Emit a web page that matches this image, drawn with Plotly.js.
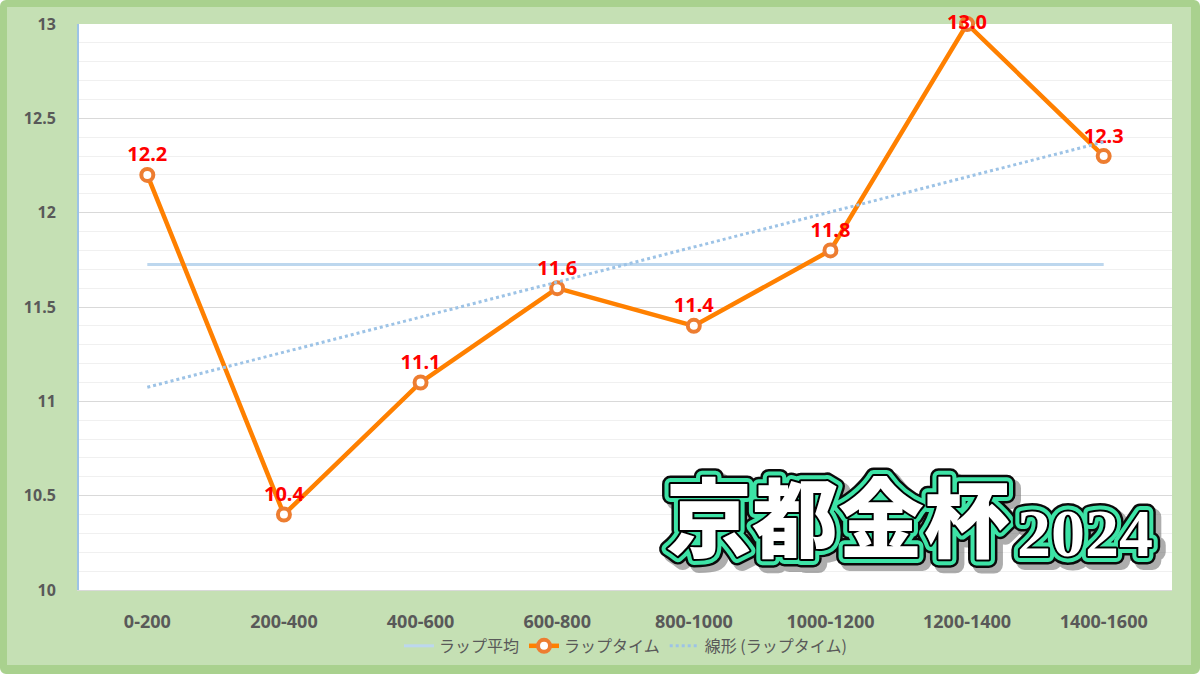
<!DOCTYPE html>
<html>
<head>
<meta charset="utf-8">
<script src="https://cdn.plot.ly/plotly-3.0.1.min.js"></script>
<style>
  html, body { margin: 0; padding: 0; background: #ffffff; }
  #frame {
    width: 1184px; height: 658px;
    border-style: solid; border-color: #a9d18e;
    border-width: 7px 9px 9px 7px;
    border-radius: 6px;
    background: #c5e0b4;
  }
  #chart { width: 1184px; height: 658px; }
  .annotation text { stroke-linejoin: round; paint-order: stroke fill; }
  .annotation[data-index="0"] text, .annotation[data-index="4"] text { stroke: #6b6b6b; stroke-width: 18px; opacity: 0.55; }
  .annotation[data-index="1"] text, .annotation[data-index="5"] text { stroke: #0a0a0a; stroke-width: 17px; }
  .annotation[data-index="2"] text, .annotation[data-index="6"] text { stroke: #3de3a6; stroke-width: 12px; }
  .annotation[data-index="3"] text, .annotation[data-index="7"] text { stroke: #000000; stroke-width: 4px; }
</style>
</head>
<body>
<div id="frame"><div id="chart"></div></div>
<script>
const categories = ["0-200", "200-400", "400-600", "600-800", "800-1000", "1000-1200", "1200-1400", "1400-1600"];
const lapTimes = [12.2, 10.4, 11.1, 11.6, 11.4, 11.8, 13.0, 12.3];
const lapAverage = [11.725, 11.725, 11.725, 11.725, 11.725, 11.725, 11.725, 11.725];
const trendCategories = ["0-200", "1400-1600"];
const trendValues = [11.075, 12.375];
const yTickVals = [10, 10.5, 11, 11.5, 12, 12.5, 13];
const yTickText = ["10", "10.5", "11", "11.5", "12", "12.5", "13"];
const titleMain = "京都金杯";
const titleYear = "2024";

const labelPositions = lapTimes.map((v, i) => i === 6 ? "middle center" : "top center");

const traces = [
  {
    x: categories, y: lapAverage, type: "scatter", mode: "lines",
    name: "ラップ平均",
    line: { color: "#bdd7ee", width: 3 },
    hoverinfo: "skip"
  },
  {
    x: categories, y: lapTimes, type: "scatter", mode: "lines+markers+text",
    name: "ラップタイム",
    line: { color: "#ff8000", width: 4.5 },
    marker: { symbol: "circle", size: 12, color: "#ffffff", line: { color: "#ed7d31", width: 4 } },
    text: lapTimes.map(v => v.toFixed(1)),
    textposition: labelPositions,
    textfont: { family: "Noto Sans, Liberation Sans, sans-serif", size: 20, color: "#ff0000", weight: "bold" },
    cliponaxis: false
  },
  {
    x: trendCategories, y: trendValues, type: "scatter", mode: "lines",
    name: "線形 (ラップタイム)",
    line: { color: "#9dc3e6", width: 3, dash: "dot" },
    hoverinfo: "skip"
  }
];

function titleLayer(text, x, y, size, family, color, xshift, yshift) {
  return {
    text: text, x: x, y: y, xref: "paper", yref: "paper",
    xanchor: "left", yanchor: "bottom", showarrow: false,
    xshift: xshift, yshift: yshift,
    font: { family: family, size: size, color: color, weight: 900 }
  };
}

const cjkFamily = "Noto Sans CJK JP, sans-serif";
const serifFamily = "Liberation Serif, DejaVu Serif, serif";
const mainX = 0.535, mainY = 0.022;
const yearX = 0.856, yearY = 0.03;

const annotations = [
  titleLayer(titleMain, mainX, mainY, 86, cjkFamily, "#6b6b6b", 5, -5),
  titleLayer(titleMain, mainX, mainY, 86, cjkFamily, "#0a0a0a", 0, 0),
  titleLayer(titleMain, mainX, mainY, 86, cjkFamily, "#3de3a6", 0, 0),
  titleLayer(titleMain, mainX, mainY, 86, cjkFamily, "#ffffff", 0, 0),
  titleLayer(titleYear, yearX, yearY, 68, serifFamily, "#6b6b6b", 5, -5),
  titleLayer(titleYear, yearX, yearY, 68, serifFamily, "#0a0a0a", 0, 0),
  titleLayer(titleYear, yearX, yearY, 68, serifFamily, "#3de3a6", 0, 0),
  titleLayer(titleYear, yearX, yearY, 68, serifFamily, "#ffffff", 0, 0)
];

const layout = {
  width: 1184, height: 658,
  margin: { l: 72, r: 19, t: 17, b: 75, autoexpand: false },
  paper_bgcolor: "#c5e0b4",
  plot_bgcolor: "#ffffff",
  showlegend: true,
  legend: {
    orientation: "h", x: 0.5, xanchor: "center",
    yref: "container", y: 0.029, yanchor: "middle",
    font: { family: "Noto Sans CJK JP, sans-serif", size: 16, color: "#595959" },
    bgcolor: "rgba(0,0,0,0)"
  },
  xaxis: {
    type: "category", range: [-0.5, 7.5],
    showgrid: false, zeroline: false,
    showline: true, linecolor: "#d9d9d9", linewidth: 1,
    ticks: "outside", ticklen: 15, tickcolor: "rgba(0,0,0,0)",
    tickfont: { family: "Noto Sans, Liberation Sans, sans-serif", size: 18, color: "#595959", weight: "bold" },
    fixedrange: true
  },
  yaxis: {
    range: [10, 13],
    tickvals: yTickVals, ticktext: yTickText,
    showgrid: true, gridcolor: "#d9d9d9", gridwidth: 1,
    minor: { dtick: 0.1, showgrid: true, gridcolor: "#f0f0f0", gridwidth: 1, ticks: "" },
    zeroline: false,
    showline: true, linecolor: "#9dc3e6", linewidth: 2,
    ticks: "outside", ticklen: 18, tickcolor: "rgba(0,0,0,0)",
    tickfont: { family: "Noto Sans, Liberation Sans, sans-serif", size: 16, color: "#595959", weight: "bold" },
    fixedrange: true
  },
  annotations: annotations
};

Plotly.newPlot("chart", traces, layout, { displayModeBar: false, staticPlot: true });
</script>
</body>
</html>
